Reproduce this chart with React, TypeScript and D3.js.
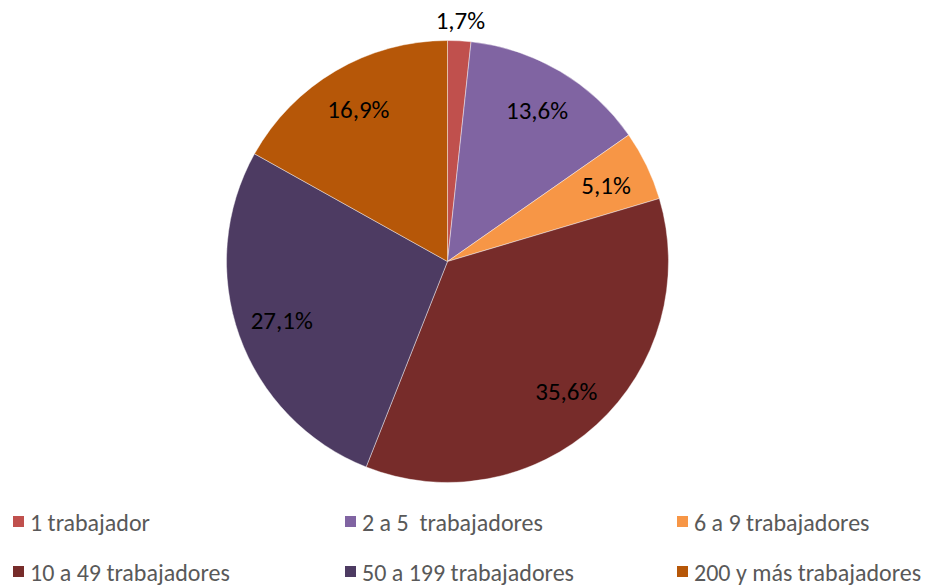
import React from "react";
import * as d3 from "d3";

const categories = ["1 trabajador", "2 a 5  trabajadores", "6 a 9 trabajadores", "10 a 49 trabajadores", "50 a 199 trabajadores", "200 y más trabajadores"];
const values = [1.7, 13.6, 5.1, 35.6, 27.1, 16.9];
const labels = ["1,7%", "13,6%", "5,1%", "35,6%", "27,1%", "16,9%"];
const colors = ["#C0504D", "#8064A2", "#F79646", "#772C2A", "#4D3B62", "#B65708"];

const W = 928, H = 586;
const cx = 447.5, cy = 261.5, R = 221;

export default function App() {
  const pie = d3.pie<number>().sort(null).value((d) => d);
  const arcs = pie(values);
  const arc = d3.arc<d3.PieArcDatum<number>>().innerRadius(0).outerRadius(R);
  const labelArc = d3.arc<d3.PieArcDatum<number>>().innerRadius(176).outerRadius(176);
  const outArc = d3.arc<d3.PieArcDatum<number>>().innerRadius(241).outerRadius(241);
  const font = "Carlito, Calibri, Lato, sans-serif";
  const colX = [13, 345, 677];
  const rowY = [522, 572];
  return (
    <svg width={W} height={H} style={{ position: "absolute", left: 0, top: 0, background: "#fff" }} fontFamily={font}>
      <g transform={`translate(${cx},${cy})`}>
        {arcs.map((a, i) => (
          <path key={i} d={arc(a) || ""} fill={colors[i]} stroke="#ffffff" strokeOpacity={0.6} strokeWidth={0.7} />
        ))}
        {arcs.map((a, i) => {
          const [x, y] = i === 0 ? outArc.centroid(a) : labelArc.centroid(a);
          return (
            <text key={i} x={x} y={y} textAnchor="middle" dominantBaseline="central" fontSize={25} fill="#000">
              {labels[i]}
            </text>
          );
        })}
      </g>
      {categories.map((c, i) => {
        const x = colX[i % 3];
        const y = rowY[Math.floor(i / 3)];
        return (
          <g key={i}>
            <rect x={x} y={y - 6} width={11} height={11} fill={colors[i]} />
            <text x={x + 17} y={y} dominantBaseline="central" fontSize={24} fill="#595959" style={{ whiteSpace: "pre" }}>
              {c}
            </text>
          </g>
        );
      })}
    </svg>
  );
}
